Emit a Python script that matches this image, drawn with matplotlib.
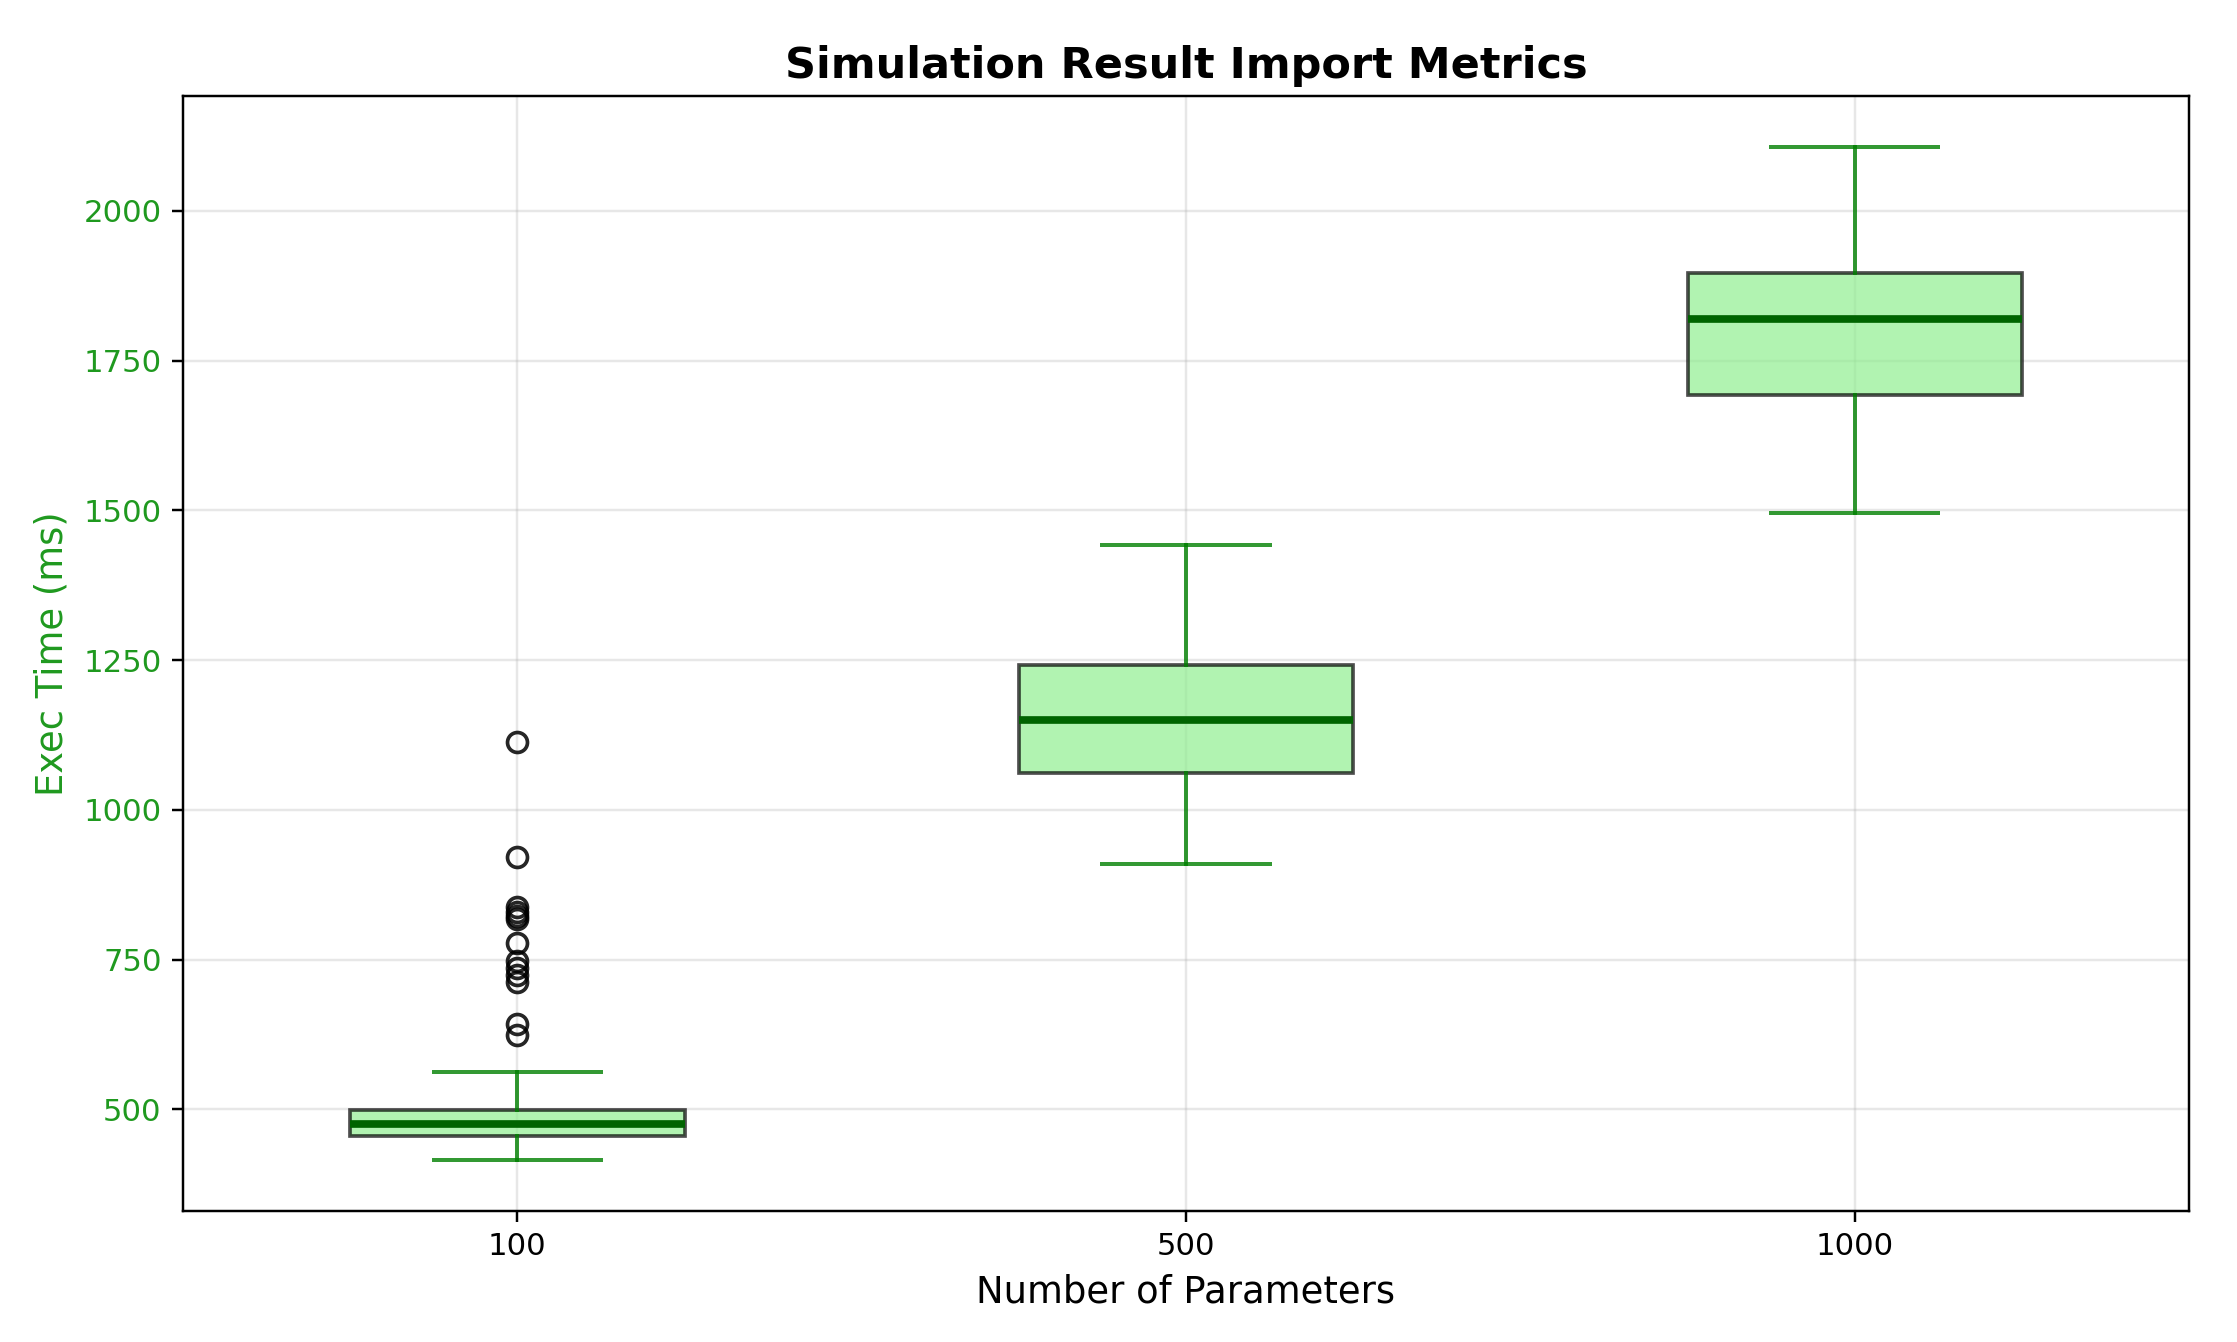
import matplotlib
matplotlib.use("Agg")
import matplotlib.pyplot as plt

categories = ["100", "500", "1000"]
q1_vals = [456, 1062, 1693]
median_vals = [475, 1150, 1819]
q3_vals = [499, 1242, 1896]
whisker_low = [415, 910, 1496]
whisker_high = [562, 1442, 2107]
fliers_100 = [1114, 922, 838, 830, 823, 817, 778, 748, 736, 724, 712, 643, 625]
fliers_500 = []
fliers_1000 = []
fliers_all = [fliers_100, fliers_500, fliers_1000]

stats = []
for i, c in enumerate(categories):
    stats.append(dict(label=c, q1=q1_vals[i], med=median_vals[i], q3=q3_vals[i],
                      whislo=whisker_low[i], whishi=whisker_high[i],
                      fliers=fliers_all[i]))

DPI = 221
W, H = 2237, 1342
fig = plt.figure(figsize=(W / DPI, H / DPI), dpi=DPI)
ax = fig.add_axes([183 / W, 1 - 1211 / H, (2189 - 183) / W, (1211 - 96) / H])

bp = ax.bxp(stats, positions=[1, 2, 3], widths=0.5, patch_artist=True,
            boxprops=dict(facecolor="lightgreen", edgecolor="black", alpha=0.7, linewidth=1.2),
            medianprops=dict(color="darkgreen", linewidth=2.5),
            whiskerprops=dict(color="green", linewidth=1.3, alpha=0.8),
            capprops=dict(color="green", linewidth=1.3, alpha=0.8),
            flierprops=dict(marker="o", markerfacecolor="none", markeredgecolor="black",
                            markersize=6.5, markeredgewidth=1.2, alpha=0.85))

ax.set_title("Simulation Result Import Metrics", fontsize=14, fontweight="bold")
ax.set_xlabel("Number of Parameters", fontsize=12)
ax.set_ylabel("Exec Time (ms)", fontsize=12, color="#1f991f")
ax.tick_params(axis="y", labelcolor="#1f991f", labelsize=10)
ax.tick_params(axis="x", labelsize=10)
ax.set_yticks([500, 750, 1000, 1250, 1500, 1750, 2000])
ax.grid(True, alpha=0.3)
ax.set_axisbelow(True)

fig.savefig("out.png", dpi=DPI)
